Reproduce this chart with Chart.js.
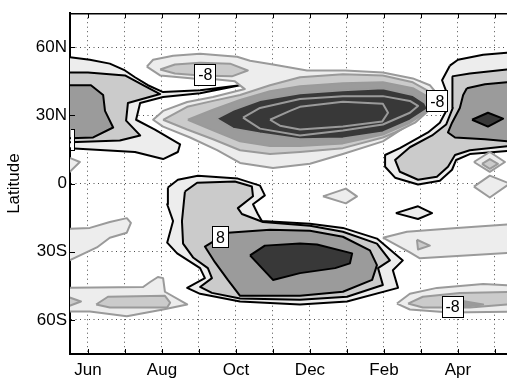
<!DOCTYPE html>
<html>
<head>
<meta charset="utf-8">
<script src="https://cdn.jsdelivr.net/npm/chart.js@4.4.1/dist/chart.umd.min.js"></script>
<style>
  html, body { margin: 0; padding: 0; background: #fff; overflow: hidden; }
  canvas { display: block; }
</style>
</head>
<body>
<canvas id="c" width="507" height="380"></canvas>
<script>
// Time axis in months: 6 = Jun ... 12 = Dec, 13 = Jan ... 17 = May
const monthTicks = [6, 7, 8, 9, 10, 11, 12, 13, 14, 15, 16, 17];
const monthNames = { 6: 'Jun', 8: 'Aug', 10: 'Oct', 12: 'Dec', 14: 'Feb', 16: 'Apr' };
const latTicks = [-60, -30, 0, 30, 60];
const latNames = { '-60': '60S', '-30': '30S', '0': '0', '30': '30N', '60': '60N' };

// Contour polygons, vertices as [month, latitude]
// Positive anomalies (black contours)
const nhSummer8 = [[5.45,55.8],[6.05,54.5],[6.59,52.8],[7.00,49.8],[7.27,46.8],[7.62,43.3],[8.03,40.3],[9.03,41.1],[10.11,43.3],[9.03,39.8],[8.03,38.1],[7.41,35.5],[7.30,28.1],[7.81,23.8],[8.49,17.3],[8.43,13.9],[8.03,10.8],[7.27,13.9],[5.45,15.6]];
const nhSummer16 = [[5.45,48.9],[6.00,48.9],[7.00,47.6],[7.54,42.9],[7.95,39.4],[7.08,35.5],[7.03,27.7],[7.41,21.2],[6.86,19.0],[5.45,18.2]];
const nhSummer24 = [[5.45,43.3],[6.08,43.3],[6.41,39.0],[6.46,32.0],[6.68,24.7],[6.14,20.3],[5.45,19.9]];

const nhSpring8 = [[15.78,51.9],[16.00,54.5],[16.68,56.7],[17.32,57.6],[17.6,57.6],[17.6,14.7],[16.32,13.0],[15.95,10.4],[15.84,6.1],[15.51,1.3],[14.92,-0.4],[14.30,2.6],[14.03,7.4],[14.03,12.6],[14.43,15.6],[15.19,22.5],[15.51,26.8],[15.70,32.5],[15.70,39.8],[15.57,45.5]];
const nhSpring16 = [[15.84,47.2],[16.32,48.5],[17.32,50.2],[17.6,50.2],[17.6,16.9],[16.32,14.7],[15.92,12.6],[15.73,7.4],[15.43,3.0],[14.92,1.7],[14.43,5.2],[14.30,10.4],[14.70,16.0],[15.30,21.2],[15.68,26.0],[15.86,33.3],[15.86,40.7]];
const nhSpring24 = [[16.24,42.0],[16.73,43.7],[17.32,44.6],[17.6,44.6],[17.6,18.2],[16.73,19.5],[15.92,20.3],[15.73,22.5],[15.84,26.8],[16.05,33.3],[16.14,39.0]];
const nhSpring32 = [[16.38,28.1],[16.81,31.2],[17.22,28.6],[16.81,25.1]];
const eqSpring8 = [[14.32,-13.0],[14.92,-10.0],[15.30,-13.0],[14.92,-15.6]];

const shSpring8 = [[8.16,-1.7],[8.43,1.7],[8.97,3.5],[10.05,2.2],[10.65,-0.9],[10.78,-5.2],[10.46,-9.1],[10.59,-13.4],[10.70,-16.5],[12.00,-17.7],[12.89,-19.5],[13.81,-24.2],[14.51,-33.8],[14.24,-38.1],[14.38,-45.9],[13.00,-51.9],[11.73,-53.2],[10.11,-51.9],[9.03,-48.5],[8.68,-45.9],[9.16,-41.6],[9.03,-37.2],[8.41,-30.7],[8.14,-26.0],[8.30,-16.5],[8.14,-9.1]];
const shSpring16 = [[8.62,-3.5],[8.95,0.4],[9.97,0.9],[10.43,-1.3],[10.46,-5.6],[10.05,-10.8],[10.16,-13.4],[10.73,-16.9],[12.00,-18.6],[12.89,-21.2],[13.81,-26.4],[14.16,-33.8],[13.84,-37.2],[13.97,-44.6],[13.00,-49.8],[11.73,-51.1],[10.11,-50.6],[9.35,-48.1],[9.03,-45.5],[9.35,-41.6],[9.24,-37.2],[8.84,-32.5],[8.57,-26.4],[8.54,-16.5]];
const shSpring24 = [[9.78,-21.6],[10.92,-20.3],[12.00,-20.8],[12.89,-23.4],[13.62,-29.4],[13.81,-35.9],[13.68,-42.4],[12.89,-47.6],[11.73,-49.4],[10.11,-49.4],[9.78,-42.4],[9.43,-34.6],[9.16,-27.7]];
const shSpring32 = [[10.38,-31.6],[10.78,-27.3],[11.73,-26.4],[12.19,-26.8],[13.14,-30.7],[13.08,-35.1],[12.68,-37.2],[11.73,-39.4],[11.00,-42.4]];

// Negative anomalies (grey contours)
const nhJet8 = [[7.59,51.5],[7.76,54.5],[8.30,56.3],[9.03,57.1],[10.03,55.8],[10.38,54.1],[11.00,52.4],[11.92,49.8],[12.95,49.8],[13.97,48.9],[14.78,46.3],[15.24,43.3],[15.46,39.0],[15.41,35.5],[14.97,29.0],[14.43,23.4],[13.97,18.6],[12.89,13.0],[12.00,8.7],[11.00,6.9],[10.11,9.1],[9.49,14.7],[8.76,20.3],[8.03,25.1],[7.76,28.1],[8.03,32.0],[8.68,35.9],[9.38,38.1],[10.24,41.6],[9.97,45.0],[9.43,45.9],[8.84,46.3],[7.95,47.6]];
const nhUpper16 = [[7.95,50.2],[8.35,52.4],[9.03,53.2],[9.84,52.8],[10.32,49.8],[9.89,47.2],[9.03,47.6],[8.35,48.5]];
const nhJet16 = [[8.03,28.1],[8.68,33.8],[9.38,36.4],[10.11,39.0],[10.92,43.3],[11.73,46.8],[12.89,48.1],[13.97,47.6],[14.78,44.6],[15.30,39.8],[15.41,36.4],[15.32,33.8],[14.84,26.8],[14.30,22.5],[13.97,20.3],[12.89,15.6],[11.73,13.9],[10.92,13.0],[10.11,14.7],[9.38,19.5],[8.68,23.8]];
const nhJet24 = [[8.70,28.1],[9.38,32.5],[10.11,36.8],[10.92,40.7],[11.73,42.9],[12.89,44.2],[13.97,44.6],[14.78,42.0],[15.24,37.7],[15.35,35.5],[15.24,32.5],[14.70,26.8],[13.97,21.6],[12.89,17.7],[11.73,16.5],[10.92,16.5],[10.11,18.6],[9.38,23.4]];
const nhJet32 = [[9.46,28.6],[9.92,32.5],[10.65,36.8],[11.73,39.8],[12.89,41.1],[13.97,42.0],[14.78,39.0],[15.11,35.5],[15.19,32.9],[14.70,27.7],[13.97,22.5],[12.89,19.9],[11.73,19.5],[10.65,22.1],[9.92,24.2]];
const nhJet40 = [[10.19,29.0],[10.65,33.3],[11.73,37.2],[12.89,38.5],[13.97,38.5],[14.70,36.4],[14.92,34.2],[14.70,31.2],[13.97,26.0],[12.89,23.4],[11.73,21.2],[10.65,24.2]];
const nhJet48 = [[10.92,28.1],[11.46,32.0],[11.73,33.8],[12.89,36.0],[13.97,35.1],[14.11,31.2],[13.95,27.3],[12.89,25.1],[11.73,23.8],[11.19,25.5]];

const shWinterSub8 = [[5.45,-19.9],[6.05,-19.5],[6.59,-16.9],[7.05,-15.2],[7.16,-17.3],[7.05,-21.6],[6.59,-23.8],[6.24,-28.1],[5.45,-34.2]];
const shWinterPolar8 = [[5.45,-45.9],[7.49,-45.5],[7.68,-43.3],[7.89,-41.1],[8.03,-41.6],[8.08,-47.6],[8.68,-53.2],[8.03,-55.4],[7.05,-58.4],[6.05,-56.3],[5.45,-56.3]];
const shWinterPolar16 = [[6.22,-53.2],[6.54,-49.8],[8.08,-49.4],[8.22,-52.4],[8.14,-54.5],[6.59,-54.5]];
const shWinterEdge16 = [[5.45,-49.8],[5.81,-51.9],[5.45,-54.1]];
const shAutumnPolar8 = [[14.35,-52.8],[14.70,-48.5],[15.43,-45.9],[16.68,-44.2],[17.6,-45.0],[17.6,-56.3],[15.78,-56.7],[14.70,-55.4]];
const shAutumnPolar16 = [[14.65,-52.8],[15.05,-49.8],[16.05,-48.1],[17.6,-47.6],[17.6,-52.8],[16.32,-54.5],[15.05,-54.5]];
const shAutumnPolar24 = [[15.92,-51.1],[16.68,-53.2],[15.97,-54.5]];
const shAutumnSub8 = [[13.97,-23.8],[14.62,-21.2],[15.97,-19.5],[17.6,-17.7],[17.6,-30.3],[14.97,-32.9],[14.70,-30.3]];
const shAutumnSub16 = [[14.89,-24.7],[15.24,-27.3],[14.92,-29.0]];
const eqSummer8 = [[12.35,-5.6],[12.97,-2.2],[13.27,-5.6],[12.97,-8.7]];
const eqAprilN8 = [[16.43,9.5],[16.86,13.9],[17.27,9.5],[16.86,5.2]];
const eqAprilN16 = [[16.65,8.7],[16.86,10.8],[17.08,8.7],[16.86,6.5]];
const eqAprilS8 = [[16.43,-1.3],[16.86,3.5],[17.40,0.0],[16.86,-6.1]];
const eqJune8 = [[5.45,11.7],[5.78,9.5],[5.45,4.3]];

// Drawing order (outermost first) with contour level of each polygon
const contourLayers = [
  [nhSummer8, 8], [nhSummer16, 16], [nhSummer24, 24],
  [nhSpring8, 8], [nhSpring16, 16], [nhSpring24, 24], [nhSpring32, 32], [eqSpring8, 8],
  [shSpring8, 8], [shSpring16, 16], [shSpring24, 24], [shSpring32, 32],
  [nhJet8, -8], [nhUpper16, -16], [nhJet16, -16], [nhJet24, -24], [nhJet32, -32], [nhJet40, -40], [nhJet48, -48],
  [shWinterSub8, -8], [shWinterPolar8, -8], [shWinterPolar16, -16], [shWinterEdge16, -16],
  [shAutumnPolar8, -8], [shAutumnPolar16, -16], [shAutumnPolar24, -24],
  [shAutumnSub8, -8], [shAutumnSub16, -16], [eqSummer8, -8],
  [eqAprilN8, -8], [eqAprilS8, -8], [eqAprilN16, -16], [eqJune8, -8]
];

// Inline contour labels
const labelText = ['-8', '-8', '8', '-8', '8'];
const labelMonth = [9.16, 15.43, 9.57, 15.84, 5.40];
const labelLat = [48.1, 36.4, -23.4, -54.1, 19.5];

const shadeFor = lev => {
  const a = Math.abs(lev);
  if (a <= 8) return '#ededed';
  if (a <= 16) return '#cbcbcb';
  if (a <= 24) return '#9b9b9b';
  return '#383838';
};

const datasets = contourLayers.map(([pts, lev], i) => ({
  data: pts.concat([pts[0]]).map(p => ({ x: p[0], y: p[1] })),
  showLine: true,
  fill: 'shape',
  backgroundColor: shadeFor(lev),
  borderColor: lev > 0 ? '#000000' : '#9a9a9a',
  borderWidth: 2,
  borderJoinStyle: 'round',
  pointRadius: 0,
  pointHoverRadius: 0,
  tension: 0,
  clip: 0,
  order: contourLayers.length - i
}));

const FONT = '"Liberation Sans", Arial, Helvetica, sans-serif';

// Axes frame: top edge and inward tick marks
const axesFrame = {
  id: 'axesFrame',
  afterDraw(chart) {
    const { ctx, chartArea: a, scales: { x, y } } = chart;
    ctx.save();
    ctx.strokeStyle = '#000';
    ctx.lineWidth = 1.5;
    ctx.beginPath();
    ctx.moveTo(a.left, a.top + 0.5);
    ctx.lineTo(a.right, a.top + 0.5);
    ctx.stroke();
    ctx.lineWidth = 1;
    ctx.beginPath();
    monthTicks.forEach(m => {
      const px = Math.round(x.getPixelForValue(m)) + 0.5;
      ctx.moveTo(px, a.bottom); ctx.lineTo(px, a.bottom - 5);
      ctx.moveTo(px, a.top); ctx.lineTo(px, a.top + 5);
    });
    latTicks.forEach(l => {
      const py = Math.round(y.getPixelForValue(l)) + 0.5;
      ctx.moveTo(a.left, py); ctx.lineTo(a.left + 5, py);
    });
    ctx.stroke();
    ctx.restore();
  }
};

// White boxed contour labels
const contourLabels = {
  id: 'contourLabels',
  afterDraw(chart) {
    const { ctx, chartArea: a, scales: { x, y } } = chart;
    ctx.save();
    ctx.beginPath();
    ctx.rect(a.left + 1, a.top, a.right - a.left, a.bottom - a.top);
    ctx.clip();
    ctx.font = '16px ' + FONT;
    ctx.textAlign = 'center';
    ctx.textBaseline = 'middle';
    labelText.forEach((t, i) => {
      const px = x.getPixelForValue(labelMonth[i]);
      const py = y.getPixelForValue(labelLat[i]);
      const w = Math.round(ctx.measureText(t).width + 7);
      const h = 21;
      const bx = Math.round(px - w / 2), by = Math.round(py - h / 2);
      ctx.fillStyle = '#fff';
      ctx.fillRect(bx, by, w, h);
      ctx.strokeStyle = '#000';
      ctx.lineWidth = 1;
      ctx.strokeRect(bx + 0.5, by + 0.5, w, h);
      ctx.fillStyle = '#000';
      ctx.fillText(t, px + 0.5, py + 1.5);
    });
    ctx.restore();
  }
};

new Chart(document.getElementById('c'), {
  type: 'scatter',
  data: { datasets },
  options: {
    responsive: false,
    animation: false,
    events: [],
    layout: { padding: { top: 8, right: 0, left: 0, bottom: 0 } },
    plugins: { legend: { display: false }, tooltip: { enabled: false } },
    scales: {
      x: {
        type: 'linear', min: 5.514, max: 17.325, z: 1,
        afterBuildTicks: s => { s.ticks = monthTicks.map(v => ({ value: v })); },
        afterFit: s => { s.height = 26; },
        ticks: {
          callback: v => monthNames[v] || '',
          autoSkip: false, maxRotation: 0, padding: 6,
          color: '#000', font: { family: FONT, size: 17 }
        },
        grid: { color: 'rgba(0,0,0,0.7)', lineWidth: 1, drawTicks: false },
        border: { display: true, color: '#000', width: 2, dash: [1, 3.5] }
      },
      y: {
        type: 'linear', min: -75, max: 75, z: 1,
        afterBuildTicks: s => { s.ticks = latTicks.map(v => ({ value: v })); },
        afterFit: s => { s.width = 70; },
        ticks: {
          callback: v => latNames[String(v)],
          autoSkip: false, padding: 3,
          color: '#000', font: { family: FONT, size: 17 }
        },
        title: {
          display: true, text: 'Latitude', color: '#000',
          font: { family: FONT, size: 17 }, padding: { top: 4, bottom: 0 }
        },
        grid: { color: 'rgba(0,0,0,0.7)', lineWidth: 1, drawTicks: false },
        border: { display: true, color: '#000', width: 2, dash: [1, 3.5] }
      }
    }
  },
  plugins: [axesFrame, contourLabels]
});
</script>
</body>
</html>
